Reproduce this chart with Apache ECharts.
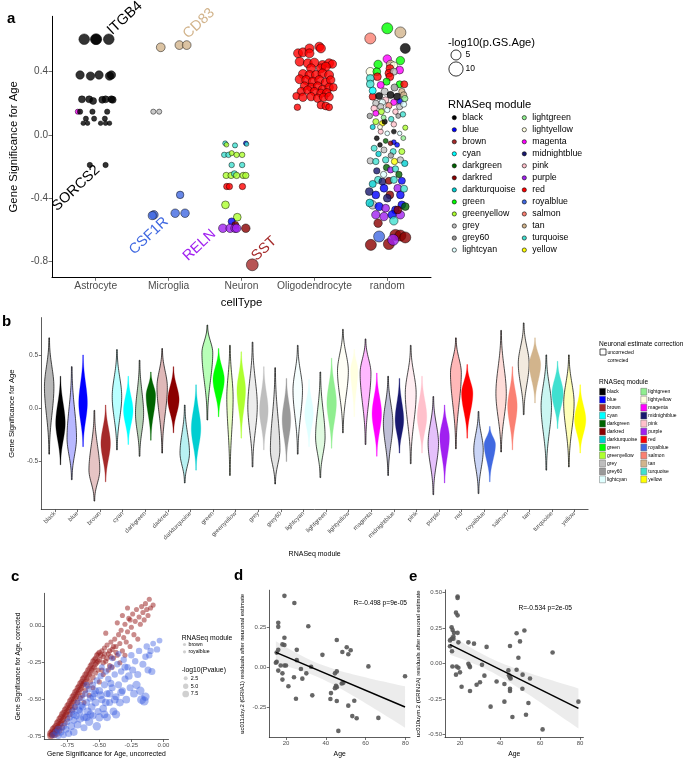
<!DOCTYPE html>
<html>
<head>
<meta charset="utf-8">
<script src="https://cdn.jsdelivr.net/npm/echarts@6/dist/echarts.min.js"></script>
<style>
html,body{margin:0;padding:0;background:#fff;}
#main{width:685px;height:759px;}
</style>
</head>
<body>
<div id="main"></div>
<script>
// ---------- data ----------
var cellTypes = ['Astrocyte', 'Microglia', 'Neuron', 'Oligodendrocyte', 'random'];
var modules = ['black','blue','brown','cyan','darkgreen','darkred','darkturquoise','green','greenyellow','grey','grey60','lightcyan',
  'lightgreen','lightyellow','magenta','midnightblue','pink','purple','red','royalblue','salmon','tan','turquoise','yellow'];
var moduleColors = {
  black:'#000000', blue:'#0000FF', brown:'#A52A2A', cyan:'#00FFFF', darkgreen:'#006400', darkred:'#8B0000',
  darkturquoise:'#00CED1', green:'#00FF00', greenyellow:'#ADFF2F', grey:'#BEBEBE', grey60:'#999999', lightcyan:'#E0FFFF',
  lightgreen:'#90EE90', lightyellow:'#FFFFE0', magenta:'#FF00FF', midnightblue:'#191970', pink:'#FFC0CB', purple:'#A020F0',
  red:'#FF0000', royalblue:'#4169E1', salmon:'#FA8072', tan:'#D2B48C', turquoise:'#40E0D0', yellow:'#FFFF00'
};

// panel a: [jitter, GS.Age, -log10 p, module]
var astrocytePts = [
  [-0.158,0.605,5.6,'black'],[0.0,0.605,5.6,'black'],[0.009,0.605,5.6,'black'],[0.179,0.605,5.6,'black'],
  [-0.215,0.379,3.5,'black'],[-0.072,0.372,3.5,'black'],[0.045,0.379,3.5,'black'],[0.189,0.372,3.5,'black'],[0.215,0.379,3.5,'black'],
  [-0.189,0.225,2.4,'black'],[-0.09,0.225,2.4,'black'],[-0.036,0.215,2.4,'black'],[0.09,0.222,2.4,'black'],[0.135,0.225,2.4,'black'],[0.215,0.225,2.4,'black'],[0.233,0.222,2.4,'black'],
  [-0.246,0.147,1.3,'magenta'],[-0.215,0.147,1.4,'black'],[-0.045,0.147,1.4,'black'],[0.157,0.147,1.4,'black'],
  [-0.135,0.103,1.3,'black'],[-0.022,0.103,1.3,'black'],[0.125,0.103,1.3,'black'],
  [-0.171,0.074,1.05,'black'],[-0.112,0.074,1.05,'black'],[0.067,0.074,1.05,'black'],[0.135,0.074,1.05,'black'],[0.189,0.074,1.05,'black'],
  [-0.081,-0.19,1.4,'black'],[0.135,-0.19,1.4,'black']
];
var microgliaPts = [
  [-0.108,0.554,3.8,'tan'],[0.148,0.568,3.8,'tan'],[0.248,0.568,3.8,'tan'],
  [-0.21,0.147,1.3,'grey'],[-0.129,0.147,1.3,'grey'],
  [-0.202,-0.505,3.6,'royalblue'],[-0.224,-0.51,3.3,'royalblue'],[0.158,-0.379,2.8,'royalblue'],[0.09,-0.495,3.6,'royalblue'],[0.225,-0.495,3.6,'royalblue']
];
var neuronPts = [
  [-0.224,-0.053,1.2,'turquoise'],[-0.206,-0.062,1.1,'greenyellow'],[-0.089,-0.066,1.3,'turquoise'],[0.059,-0.053,1.1,'blue'],[0.07,-0.058,1.0,'turquoise'],
  [-0.237,-0.126,1.5,'turquoise'],[-0.179,-0.126,1.5,'turquoise'],[-0.135,-0.115,1.3,'greenyellow'],[-0.067,-0.126,1.5,'greenyellow'],[0.009,-0.126,1.5,'greenyellow'],
  [-0.135,-0.19,1.5,'turquoise'],[0.009,-0.19,1.5,'turquoise'],
  [-0.21,-0.256,2,'greenyellow'],[-0.143,-0.256,2,'greenyellow'],[-0.098,-0.245,1.8,'turquoise'],[-0.067,-0.256,2,'greenyellow'],[0.023,-0.256,2,'greenyellow'],[0.059,-0.256,2,'greenyellow'],
  [-0.202,-0.326,2,'red'],[-0.166,-0.326,2,'red'],[0.013,-0.326,2,'red'],
  [-0.22,-0.442,3,'greenyellow'],[-0.058,-0.52,3,'greenyellow'],[-0.135,-0.547,2.5,'blue'],[-0.085,-0.57,2.5,'darkred'],
  [-0.256,-0.59,3.6,'purple'],[-0.156,-0.59,3.6,'purple'],[-0.089,-0.59,3.6,'purple'],[-0.067,-0.59,3.6,'purple'],[0.059,-0.59,3.6,'darkred'],
  [0.148,-0.821,7,'brown']
];
var oligoPts = [
  [-0.224,0.516,4],[-0.157,0.522,4],[-0.067,0.547,4],[0.067,0.558,4],[0.09,0.547,4],[-0.067,0.516,4],[-0.202,0.463,4],
  [-0.09,0.453,4],[0,0.457,4],[0.112,0.442,4],[0.202,0.453,4],[0.247,0.448,3.5],[-0.045,0.421,4],[0.09,0.421,4],[0.157,0.432,4],
  [-0.157,0.385,4],[-0.067,0.379,4],[0.022,0.379,4],[0.112,0.389,4],[0.202,0.379,4],[-0.202,0.352,4],[-0.112,0.347,4],
  [-0.022,0.337,4],[0.067,0.347,4],[0.157,0.331,4],[0.224,0.347,3.5],[-0.135,0.309,3.5],[-0.045,0.301,3.5],[0.045,0.309,3.5],[0.112,0.288,3.5],
  [0.202,0.301,3.5],[0.26,0.301,3],[-0.18,0.274,3.5],[-0.09,0.284,3.5],[0,0.274,3.5],[0.09,0.263,3.5],[0.17,0.267,3.5],[-0.247,0.246,2.6],
  [-0.157,0.238,3.5],[-0.045,0.242,3.5],[0.045,0.232,3.5],[0.126,0.238,3.5],[0.202,0.242,3.5],[0.09,0.189,3],[0.157,0.183,3],[0.202,0.175,2.4],[-0.233,0.175,2.1]
];
var randomPts = [
  [0,0.674,6,'green'],[0.18,0.648,6,'tan'],[-0.233,0.61,6,'salmon'],[0.247,0.547,5,'black'],[0,0.48,3.5,'magenta'],[-0.126,0.446,3.5,'green'],
  [0.045,0.446,3.5,'tan'],[0.18,0.47,3.5,'green'],[0.09,0.438,3,'lightyellow'],[0.036,0.42,3,'red'],[0.17,0.41,3,'magenta'],[-0.233,0.40,3.5,'lightyellow'],
  [-0.144,0.40,3,'green'],[0.022,0.39,3,'red'],[0.09,0.40,2.5,'grey'],[-0.135,0.368,3,'red'],[-0.233,0.358,3,'turquoise'],[0.036,0.368,3,'red'],
  [-0.01,0.337,2.5,'green'],[-0.233,0.322,3,'turquoise'],[-0.09,0.316,2.5,'magenta'],[0.17,0.32,2.5,'green'],[0.233,0.32,2.5,'red'],[0.2,0.274,2,'tan'],
  [-0.036,0.274,2.5,'grey'],[-0.2,0.242,2.5,'red'],[-0.112,0.246,2.5,'black'],[0.045,0.253,2.5,'black'],[0.135,0.242,2.5,'black'],[0.225,0.253,2,'tan'],
  [-0.022,0.221,2,'pink'],[-0.157,0.2,2,'grey'],[-0.067,0.206,2,'lightcyan'],[0.09,0.206,2,'magenta'],[0.18,0.21,2,'blue'],[-0.18,0.168,2,'pink'],
  [-0.09,0.179,2,'grey'],[0.022,0.185,2,'salmon'],[0.17,0.179,2,'grey'],[0.225,0.194,1.8,'lightcyan'],[-0.157,0.137,1.8,'magenta'],[-0.081,0.147,1.8,'greenyellow'],
  [0,0.158,1.5,'lightcyan'],[0.112,0.147,1.5,'pink'],[0.215,0.13,1.5,'turquoise'],[-0.157,0.084,1.8,'greenyellow'],[-0.067,0.074,1.6,'yellow'],[0.054,0.1,1.5,'turquoise'],
  [-0.036,0.084,1.4,'black'],[0.09,0.067,1.5,'pink'],[0.247,0.046,1.3,'greenyellow'],[-0.09,0.021,1.3,'pink'],[0,0.01,1.1,'lightcyan'],[0.09,0.021,1.2,'black'],
  [0.17,0.01,1,'lightcyan'],[-0.144,-0.021,1.2,'black'],[-0.022,-0.038,1.2,'darkgreen'],[0.09,-0.046,1.2,'blue'],[-0.1,-0.063,1.1,'black'],[0.045,-0.053,1.1,'darkred'],
  [0.135,-0.063,1.2,'blue'],[-0.18,-0.084,1.8,'turquoise'],[-0.045,-0.095,1.8,'grey'],[0.081,-0.105,1.8,'turquoise'],[0.2,-0.105,1.8,'greenyellow'],
  [-0.233,-0.164,2,'grey'],[-0.157,-0.168,2,'turquoise'],[-0.022,-0.158,2,'turquoise'],[0.099,-0.168,2,'yellow'],[0.18,-0.158,2,'grey'],
  [-0.144,-0.227,2,'midnightblue'],[-0.01,-0.206,2,'darkgreen'],[0.045,-0.221,2,'purple'],[0.112,-0.215,2,'turquoise'],[-0.126,-0.284,2.5,'turquoise'],
  [-0.067,-0.295,2.5,'midnightblue'],[0.022,-0.29,2.5,'darkred'],[0.09,-0.284,2.5,'turquoise'],[0.2,-0.29,2.5,'blue'],[-0.247,-0.358,3,'midnightblue'],
  [-0.157,-0.379,3,'blue'],[-0.045,-0.337,3,'blue'],[0.036,-0.379,3,'darkred'],[0.144,-0.337,3,'purple'],[0.18,-0.379,3,'blue'],[-0.2,-0.442,3.5,'grey'],
  [-0.112,-0.453,3.5,'blue'],[-0.022,-0.463,3,'purple'],[0.112,-0.474,3,'blue'],[0.2,-0.442,3,'blue'],[0.247,-0.453,3,'darkgreen'],[-0.157,-0.505,3.5,'purple'],
  [-0.045,-0.516,3.5,'purple'],[0.067,-0.505,3.5,'blue'],[0.18,-0.505,3.5,'purple'],[-0.126,-0.558,3.5,'darkred'],[0.09,-0.543,3.5,'turquoise'],[0.144,-0.474,3,'darkred'],
  [-0.2,0.05,1.3,'darkturquoise'],[0.15,0.12,1.2,'grey60'],[-0.05,0.11,1.2,'lightgreen'],[0.22,-0.02,1.2,'lightgreen'],[-0.12,-0.12,1.5,'darkturquoise'],
  [0.05,-0.13,1.5,'grey60'],[0.24,-0.18,2,'darkturquoise'],[-0.05,-0.25,2,'lightcyan'],[0.16,-0.25,2,'darkgreen'],[-0.2,-0.31,2.5,'darkturquoise'],
  [0.23,-0.34,2.5,'turquoise'],[-0.24,-0.43,3,'darkturquoise'],[0.0,-0.40,3,'midnightblue'],[-0.2,0.28,2.5,'cyan'],[0.24,0.23,2,'lightgreen'],
  [-0.24,0.12,1.5,'grey60'],[0.1,0.3,2.5,'grey60'],[-0.1,0.05,1.2,'lightyellow'],
  [-0.112,-0.642,6,'royalblue'],[-0.225,-0.695,6,'darkred'],[0.022,-0.69,6,'darkred'],[0.112,-0.632,6,'darkred'],[0.18,-0.636,6,'darkred'],
  [0.247,-0.648,6,'darkred'],[0.081,-0.663,6,'purple']
];
var geneNames = ['ITGB4', 'SORCS2', 'CD83', 'CSF1R', 'RELN', 'SST'];
var geneX = [1.26, 0.5, 2.3, 1.56, 2.3, 3.24];
var geneY = [0.614, -0.5, 0.59, -0.775, -0.815, -0.815];
var geneModule = ['black', 'black', 'tan', 'royalblue', 'purple', 'brown'];

// panel b: violin summaries (min, widest point, max, peak width as share of slot)
var uncMin  = [-0.43,-0.67,-0.87,-0.39,-0.45,-0.42,-0.70,-0.11,-0.63,-0.55,-0.71,-0.43,-0.65,-0.23,-0.34,-0.63,-0.52,-0.81,-0.38,-0.80,-0.41,-0.06,-0.58,-0.55];
var uncMode = [0.20,-0.28,-0.58,0.11,-0.05,0.20,-0.42,0.52,0.10,0.02,-0.39,0.17,-0.27,0.35,0.33,-0.14,0.14,-0.33,0.33,-0.39,0.14,0.42,0.02,0.05];
var uncMax  = [0.66,0.39,-0.02,0.55,0.45,0.56,0.03,0.78,0.59,0.62,0.38,0.59,0.34,0.74,0.65,0.30,0.59,0.11,0.66,-0.03,0.73,0.80,0.50,0.50];
var uncWidth = [0.21,0.21,0.24,0.21,0.18,0.23,0.21,0.24,0.14,0.21,0.21,0.21,0.21,0.24,0.24,0.21,0.24,0.23,0.24,0.21,0.23,0.24,0.23,0.23];
var corMin  = [-0.53,-0.36,-0.69,-0.34,-0.30,-0.23,-0.58,-0.08,-0.28,-0.39,-0.50,-0.36,-0.375,-0.08,-0.45,-0.42,-0.42,-0.70,-0.28,-0.69,-0.39,0.05,-0.19,-0.42];
var corMode = [-0.14,0.05,-0.33,-0.02,0.12,0.08,-0.19,0.27,0.17,-0.02,-0.11,-0.05,0.05,0.36,-0.05,-0.11,-0.08,-0.27,0.14,-0.34,0.02,0.41,0.14,-0.11];
var corMax  = [0.30,0.50,0.03,0.30,0.34,0.39,0.22,0.56,0.53,0.39,0.28,0.27,0.47,0.55,0.33,0.28,0.30,0.03,0.41,-0.17,0.39,0.66,0.44,0.22];
var corWidth = [0.21,0.19,0.21,0.21,0.21,0.25,0.21,0.25,0.19,0.19,0.19,0.19,0.21,0.16,0.21,0.19,0.21,0.21,0.25,0.25,0.21,0.25,0.25,0.25];

// panel c: [GS uncorrected, GS corrected, -log10 p]
var brownPts = [
  [-0.88,-0.745,5],[-0.88,-0.73,5],[-0.87,-0.72,5],[-0.87,-0.74,4],[-0.86,-0.70,5],[-0.86,-0.73,4],
  [-0.85,-0.69,4],[-0.85,-0.72,4],[-0.85,-0.74,4],[-0.84,-0.68,4],[-0.84,-0.71,4],
  [-0.83,-0.66,4],[-0.83,-0.70,4],[-0.83,-0.73,4],[-0.82,-0.65,4],[-0.82,-0.69,4],
  [-0.81,-0.63,4],[-0.81,-0.67,4],[-0.81,-0.71,3],[-0.80,-0.62,4],[-0.80,-0.66,3],
  [-0.79,-0.60,4],[-0.79,-0.64,3],[-0.79,-0.69,3],[-0.78,-0.59,4],[-0.78,-0.63,3],
  [-0.77,-0.57,3],[-0.77,-0.61,3],[-0.77,-0.66,3],[-0.76,-0.56,3],[-0.76,-0.60,3],
  [-0.75,-0.54,3],[-0.75,-0.58,3],[-0.75,-0.63,3],[-0.74,-0.53,3],[-0.74,-0.57,3],
  [-0.73,-0.51,3],[-0.73,-0.55,3],[-0.73,-0.60,3],[-0.72,-0.50,3],[-0.72,-0.54,3],
  [-0.71,-0.48,3],[-0.71,-0.52,3],[-0.71,-0.57,3],[-0.70,-0.47,3],[-0.70,-0.51,3],
  [-0.69,-0.45,3],[-0.69,-0.49,3],[-0.69,-0.55,3],[-0.68,-0.44,3],[-0.68,-0.48,3],
  [-0.67,-0.42,3],[-0.67,-0.46,3],[-0.67,-0.52,2.5],[-0.66,-0.41,3],[-0.66,-0.45,3],
  [-0.65,-0.39,3],[-0.65,-0.43,3],[-0.65,-0.49,2.5],[-0.64,-0.38,3],[-0.64,-0.42,3],
  [-0.63,-0.36,3],[-0.63,-0.40,3],[-0.63,-0.47,2.5],[-0.62,-0.35,3],[-0.62,-0.39,3],
  [-0.61,-0.33,3],[-0.61,-0.38,3],[-0.61,-0.44,2.5],[-0.60,-0.32,2.5],[-0.60,-0.36,2.5],
  [-0.59,-0.30,2.5],[-0.59,-0.35,2.5],[-0.59,-0.41,2.5],[-0.58,-0.29,2.5],[-0.58,-0.33,2.5],
  [-0.57,-0.27,2.5],[-0.57,-0.32,2.5],[-0.57,-0.38,2.5],[-0.56,-0.26,2.5],[-0.56,-0.30,2.5],
  [-0.55,-0.24,2.5],[-0.55,-0.29,2.5],[-0.55,-0.35,2.5],[-0.54,-0.23,2.5],[-0.54,-0.28,2.5],
  [-0.53,-0.22,2.5],[-0.53,-0.26,2.5],[-0.53,-0.32,2],[-0.52,-0.20,2.5],[-0.52,-0.25,2.5],
  [-0.51,-0.19,2.5],[-0.51,-0.24,2.5],[-0.51,-0.30,2],[-0.50,-0.18,2.5],[-0.50,-0.23,2.5],
  [-0.48,-0.17,2],[-0.47,-0.21,2],[-0.46,-0.15,2],[-0.45,-0.24,2],[-0.44,-0.13,2],[-0.43,-0.19,2],[-0.42,-0.27,2],
  [-0.41,-0.11,2],[-0.40,-0.16,2],[-0.39,-0.22,2],[-0.38,-0.09,2],[-0.37,-0.14,2],[-0.36,-0.20,2],[-0.35,-0.06,2],
  [-0.34,-0.12,2],[-0.33,-0.03,2],[-0.32,-0.17,2],[-0.31,-0.08,2],[-0.30,0.01,2],[-0.29,-0.11,2],[-0.28,-0.04,2],
  [-0.27,0.05,2],[-0.26,-0.14,2],[-0.25,-0.01,2],[-0.24,0.08,2],[-0.23,-0.06,2],[-0.22,0.03,2],[-0.21,0.11,2],
  [-0.20,-0.09,2],[-0.19,0.06,2],[-0.18,0.01,2],[-0.17,0.13,2],[-0.16,0.09,2],[-0.15,0.04,2],[-0.14,0.15,2],
  [-0.13,0.11,2],[-0.12,0.07,2],[-0.11,0.18,2],[-0.10,0.12,2],[-0.08,0.14,2],[-0.36,0.02,2],[-0.32,0.07,2],
  [-0.28,0.12,2],[-0.26,0.04,2],[-0.30,-0.20,2],[-0.34,-0.25,2],[-0.45,-0.05,2],[-0.40,-0.28,2],[-0.48,-0.30,2],
  [-0.62,-0.52,2],[-0.58,-0.47,2],[-0.55,-0.42,2],[-0.50,-0.38,2],[-0.47,-0.33,2],[-0.43,-0.30,2],
  [-0.49,-0.20,2.5],[-0.47,-0.25,2.5],[-0.46,-0.19,2.5],[-0.44,-0.22,2.5],[-0.42,-0.17,2.5],[-0.41,-0.21,2.5],[-0.39,-0.14,2],[-0.37,-0.18,2]
];
var royalbluePts = [
  [-0.86,-0.74,4],[-0.84,-0.72,4],[-0.82,-0.70,5],[-0.82,-0.745,4],[-0.80,-0.72,5],[-0.78,-0.68,5],[-0.78,-0.74,4],[-0.76,-0.70,5],
  [-0.75,-0.65,4],[-0.74,-0.73,5],[-0.73,-0.62,4],[-0.72,-0.68,6],[-0.71,-0.58,4],[-0.70,-0.64,5],[-0.70,-0.72,6],[-0.69,-0.55,4],
  [-0.68,-0.61,5],[-0.67,-0.67,6],[-0.67,-0.52,4],[-0.66,-0.57,5],[-0.65,-0.63,6],[-0.64,-0.49,4],[-0.63,-0.55,5],[-0.62,-0.62,6],
  [-0.62,-0.69,5],[-0.61,-0.46,4],[-0.60,-0.52,5],[-0.59,-0.58,6],[-0.58,-0.65,7],[-0.58,-0.43,4],[-0.57,-0.49,5],[-0.56,-0.55,6],
  [-0.55,-0.61,5],[-0.55,-0.40,4],[-0.54,-0.46,5],[-0.53,-0.52,6],[-0.52,-0.68,7],[-0.52,-0.37,4],[-0.51,-0.58,5],[-0.50,-0.44,6],
  [-0.50,-0.62,7],[-0.49,-0.34,4],[-0.48,-0.50,5],[-0.47,-0.56,6],[-0.46,-0.40,5],[-0.45,-0.31,4],[-0.44,-0.46,5],[-0.44,-0.62,6],
  [-0.43,-0.36,4],[-0.42,-0.52,5],[-0.41,-0.28,4],[-0.40,-0.42,5],[-0.39,-0.58,6],[-0.38,-0.33,4],[-0.37,-0.48,5],[-0.37,-0.60,7],
  [-0.36,-0.26,4],[-0.35,-0.40,5],[-0.34,-0.52,6],[-0.33,-0.31,4],[-0.32,-0.44,5],[-0.31,-0.23,4],[-0.30,-0.36,5],[-0.29,-0.50,6],
  [-0.28,-0.28,4],[-0.27,-0.34,6],[-0.26,-0.42,5],[-0.25,-0.20,4],[-0.24,-0.30,5],[-0.23,-0.46,6],[-0.22,-0.24,4],[-0.21,-0.40,7],
  [-0.20,-0.33,5],[-0.19,-0.17,4],[-0.18,-0.44,7],[-0.17,-0.50,8],[-0.16,-0.26,5],[-0.15,-0.51,8],[-0.14,-0.48,7],[-0.14,-0.21,4],
  [-0.13,-0.14,4],[-0.12,-0.30,5],[-0.11,-0.20,4],[-0.10,-0.17,4],[-0.09,-0.31,5],[-0.08,-0.12,3],[-0.05,-0.16,4],[-0.03,-0.10,3],
  [-0.60,-0.40,4],[-0.48,-0.28,3],[-0.40,-0.22,3],[-0.35,-0.19,3],[-0.45,-0.52,6],[-0.55,-0.48,5],[-0.65,-0.58,5],[-0.60,-0.62,6],[-0.42,-0.46,6],
  [-0.70,-0.60,5],[-0.64,-0.54,5],[-0.57,-0.60,6],[-0.53,-0.44,5],[-0.49,-0.47,6],[-0.46,-0.60,6],[-0.41,-0.39,5],[-0.38,-0.50,6],[-0.33,-0.45,6],[-0.30,-0.28,5]
];

// panels d and e: age vs residuals
var dAge = [19.2,24.2,16.1,16.1,31.2,19.2,45.5,18.2,19.2,50.5,52.5,25.4,16.1,48.3,15.3,38.3,51.3,25.4,15.3,14.9,17.3,19.2,20,32.6,61.4,16.1,
  27.5,30.2,18.2,44.6,45.5,79.8,24,21.2,28.2,18.2,48.8,48,45.1,44.6,45.5,33.2,42.6,42.3,25,45.5,54.3,51.3,53.3,55.5,66.4,46.3];
var dRes = [0.445,0.40,0.277,0.252,0.256,0.184,0.170,0.143,0.139,0.125,0.107,0.109,0.109,0.096,0.092,0.078,0.082,0.045,0.035,0.029,0.012,0.012,
  0.012,0.004,0.006,-0.02,-0.01,-0.037,-0.037,-0.037,-0.025,-0.055,-0.061,-0.117,-0.07,-0.076,-0.096,-0.10,-0.115,-0.129,-0.123,-0.174,-0.16,
  -0.197,-0.195,-0.209,-0.207,-0.238,-0.303,-0.316,-0.314,-0.395];
var eAge = [18.8,18.8,18,18.8,15.8,16.3,17,16.7,18.8,15.8,15,16.7,19.2,24.2,27,33.3,15,16,48.3,52.2,45,50,66.3,49.2,16.2,18.3,19.2,20,18,
  24.2,24.7,25,31,32.2,20.8,25,28.3,30,38.3,42.2,44.2,44.5,45,45.3,48.3,51.3,45,45,51.2,55,54.2,42.2,35.3,46.2,53,61.3,79.2];
var eRes = [0.472,0.461,0.358,0.339,0.255,0.236,0.216,0.19,0.216,0.174,0.163,0.174,0.149,0.149,0.14,0.117,0.122,0.087,0.213,0.232,0.124,
  0.156,0.078,0.041,-0.021,-0.021,-0.03,-0.062,-0.078,-0.002,-0.016,-0.025,-0.009,-0.085,-0.163,-0.193,-0.149,-0.131,-0.126,-0.144,-0.048,
  -0.083,-0.096,-0.105,-0.044,-0.078,-0.177,-0.193,-0.177,-0.105,-0.277,-0.268,-0.303,-0.376,-0.36,-0.463,-0.268];

// ---------- helpers ----------
var FONT = 'Liberation Sans';
var sizeA = function (p) { return 4.5 * Math.sqrt(p); };
var sizeC = function (p) { return 3.8 + 0.65 * p; };

function columnSeries(pts, ci, fixedModule) {
  return {
    type: 'scatter', xAxisIndex: 0, yAxisIndex: 0, silent: true,
    data: pts.map(function (d) {
      var m = fixedModule || d[3];
      return { value: [ci + 1 + d[0], d[1], d[2]], itemStyle: { color: moduleColors[m] } };
    }),
    symbolSize: function (v) { return sizeA(v[2]); },
    itemStyle: { borderColor: '#000', borderWidth: 0.6 }
  };
}

function violinPoly(api, xc, mn, md, mx, hw) {
  var left = [], right = [];
  var N = 48;
  for (var k = 0; k <= N; k++) {
    var v = mn + (mx - mn) * k / N;
    var t = v <= md ? (v - mn) / (md - mn) : (mx - v) / (mx - md);
    var f = Math.pow(t * t * (3 - 2 * t), 1.3);
    var w = 0.35 + (hw - 0.35) * f;
    var p = api.coord([xc, v]);
    left.push([p[0] - w, p[1]]);
    right.push([p[0] + w, p[1]]);
  }
  return left.concat(right.reverse());
}

function linFit(xs, ys) {
  var n = xs.length, mx = 0, my = 0;
  for (var i = 0; i < n; i++) { mx += xs[i]; my += ys[i]; }
  mx /= n; my /= n;
  var sxx = 0, sxy = 0;
  for (i = 0; i < n; i++) { sxx += (xs[i] - mx) * (xs[i] - mx); sxy += (xs[i] - mx) * (ys[i] - my); }
  var b = sxy / sxx, a = my - b * mx, sse = 0;
  for (i = 0; i < n; i++) { var r = ys[i] - (a + b * xs[i]); sse += r * r; }
  var s = Math.sqrt(sse / (n - 2));
  var x0 = Math.min.apply(null, xs), x1 = Math.max.apply(null, xs);
  var band = [];
  for (var k = 0; k <= 30; k++) {
    var x = x0 + (x1 - x0) * k / 30;
    var se = s * Math.sqrt(1 / n + (x - mx) * (x - mx) / sxx);
    band.push([x, a + b * x - 2.0 * se, a + b * x + 2.0 * se]);
  }
  return { line: [[x0, a + b * x0], [x1, a + b * x1]], band: band };
}

function regressionSeries(ax, xs, ys) {
  var fit = linFit(xs, ys);
  return [
    {
      type: 'custom', xAxisIndex: ax, yAxisIndex: ax, silent: true, data: [[0]],
      renderItem: function (params, api) {
        var up = [], lo = [];
        fit.band.forEach(function (b) { lo.push(api.coord([b[0], b[1]])); up.push(api.coord([b[0], b[2]])); });
        return { type: 'polygon', shape: { points: lo.concat(up.reverse()) }, style: { fill: 'rgba(160,160,160,0.2)' } };
      }
    },
    {
      type: 'scatter', xAxisIndex: ax, yAxisIndex: ax, silent: true, symbolSize: 4.6,
      itemStyle: { color: '#555555', opacity: 0.9 },
      data: xs.map(function (x, i) { return [x, ys[i]]; })
    },
    {
      type: 'line', xAxisIndex: ax, yAxisIndex: ax, silent: true, symbol: 'none',
      lineStyle: { color: '#000', width: 1.5 }, data: fit.line
    }
  ];
}

function valAxis(grid, min, max, ticks, fmt, o) {
  return {
    gridIndex: grid, type: 'value', min: min, max: max, splitLine: { show: false },
    axisLine: { show: true, onZero: false, lineStyle: { color: o.lineColor || '#333', width: o.lineWidth || 0.8 } },
    axisTick: { show: true, customValues: ticks, length: o.tickLen || 2.5, lineStyle: { color: '#333', width: 0.7 } },
    axisLabel: { customValues: ticks, formatter: fmt, fontSize: o.fontSize, color: '#4d4d4d', fontFamily: FONT, margin: o.margin || 3, rotate: o.rotate || 0 },
    name: o.name || '', nameLocation: 'middle', nameGap: o.nameGap || 10,
    nameTextStyle: { fontSize: o.nameSize || 7, color: '#000', fontFamily: FONT }
  };
}

function txt(id, x, y, s, size, opts) {
  opts = opts || {};
  return {
    type: 'text', id: id, x: x, y: y, rotation: opts.rotation || 0, silent: true,
    style: {
      text: s, fontSize: size, fontFamily: FONT, fontWeight: opts.weight || 'normal', fill: opts.color || '#000',
      textAlign: opts.align || 'left', align: opts.align || 'left',
      textVerticalAlign: opts.valign || 'middle', verticalAlign: opts.valign || 'middle'
    }
  };
}

// ---------- legends / static text ----------
var graphics = [];
graphics.push(txt('la', 7, 19, 'a', 15, { weight: 'bold' }));
graphics.push(txt('lb', 2, 322, 'b', 15, { weight: 'bold' }));
graphics.push(txt('lc', 11, 577, 'c', 15, { weight: 'bold' }));
graphics.push(txt('ld', 234, 576, 'd', 15, { weight: 'bold' }));
graphics.push(txt('le', 409, 577, 'e', 15, { weight: 'bold' }));

// panel a legends
graphics.push(txt('aT1', 448, 43, '-log10(p.GS.Age)', 11.2));
[5, 10].forEach(function (p, k) {
  var cy = [55, 69][k];
  graphics.push({ type: 'circle', id: 'aS' + k, silent: true, shape: { cx: 456, cy: cy, r: sizeA(p) / 2 }, style: { fill: '#fff', stroke: '#000', lineWidth: 0.8 } });
  graphics.push(txt('aSt' + k, 465.5, cy, String(p), 8.5));
});
graphics.push(txt('aT2', 448, 105, 'RNASeq module', 11.2));
modules.forEach(function (m, i) {
  var col = i < 12 ? 0 : 1, row = i % 12;
  var y = 117.7 + row * 12.03;
  var dx = col === 0 ? 454.3 : 524.3;
  graphics.push({ type: 'circle', id: 'aM' + i, silent: true, shape: { cx: dx, cy: y, r: 2.1 }, style: { fill: moduleColors[m], stroke: '#000', lineWidth: 0.6 } });
  graphics.push(txt('aMt' + i, dx + 8, y, m, 8.8));
});

// panel b legends
graphics.push(txt('bT1', 599, 344, 'Neuronal estimate correction', 6.6));
graphics.push({ type: 'rect', id: 'bK0', silent: true, shape: { x: 600, y: 349, width: 6, height: 6 }, style: { fill: '#fff', stroke: '#000', lineWidth: 0.7 } });
graphics.push(txt('bK0t', 607.5, 352.2, 'uncorrected', 5));
graphics.push(txt('bK1t', 607.5, 360.5, 'corrected', 5));
graphics.push(txt('bT2', 599, 382.5, 'RNASeq module', 6.6));
modules.forEach(function (m, i) {
  var col = i < 12 ? 0 : 1, row = i % 12;
  var y = 391.7 + row * 7.97;
  var bx = col === 0 ? 599.5 : 640.8;
  graphics.push({ type: 'rect', id: 'bM' + i, silent: true, shape: { x: bx, y: y - 3.4, width: 6, height: 6.8 }, style: { fill: moduleColors[m], stroke: '#555', lineWidth: 0.4 } });
  graphics.push(txt('bMt' + i, bx + 7.5, y, m, 5));
});

// panel c legend
graphics.push(txt('cT1', 181.7, 638, 'RNASeq module', 6.8));
['brown', 'royalblue'].forEach(function (m, k) {
  var y = [644.5, 651.8][k];
  graphics.push({ type: 'circle', id: 'cM' + k, silent: true, shape: { cx: 184.5, cy: y, r: 1.6 }, style: { fill: 'rgba(150,150,150,0.45)' } });
  graphics.push(txt('cMt' + k, 188.5, y, m, 5.2));
});
graphics.push(txt('cT2', 181.7, 670.5, '-log10(Pvalue)', 6.8));
[2.5, 5.0, 7.5].forEach(function (p, k) {
  var y = [678.3, 686.2, 694][k];
  graphics.push({ type: 'circle', id: 'cS' + k, silent: true, shape: { cx: 185.7, cy: y, r: (2.6 + 0.55 * p) / 2 }, style: { fill: 'rgba(150,150,150,0.45)' } });
  graphics.push(txt('cSt' + k, 190.8, y, p.toFixed(1), 5.4));
});

// panels d / e annotations
graphics.push(txt('dR', 407, 603.3, 'R=-0.498 p=9e-05', 6.6, { align: 'right' }));
graphics.push(txt('eR', 572, 608.3, 'R=-0.534 p=2e-05', 6.6, { align: 'right' }));

// ---------- option ----------
var f1 = function (v) { return v.toFixed(1); };
var f2 = function (v) { return v.toFixed(2); };
var fInt = function (v) { return String(Math.round(v)); };

var option = {
  animation: false,
  backgroundColor: '#fff',
  textStyle: { fontFamily: FONT },
  grid: [
    { left: 45, top: 16.3, width: 386, height: 261 },
    { left: 26.7, top: 317.6, width: 561.4, height: 192 },
    { left: 44.3, top: 593.3, width: 124.2, height: 148.5 },
    { left: 269.3, top: 590.2, width: 140.7, height: 149 },
    { left: 445, top: 589.9, width: 138.4, height: 151 }
  ],
  xAxis: [
    valAxis(0, 0.4, 5.6, [1, 2, 3, 4, 5], function (v) { return cellTypes[Math.round(v) - 1]; },
      { fontSize: 10.3, lineColor: '#000', lineWidth: 1, tickLen: 3.5, margin: 4, name: 'cellType', nameGap: 20.5, nameSize: 11.3 }),
    valAxis(1, -0.6, 23.6, modules.map(function (m, i) { return i; }), function (v) { return modules[Math.round(v)]; },
      { fontSize: 6.1, rotate: 45, margin: 3, name: 'RNASeq module', nameGap: 41, nameSize: 7 }),
    valAxis(2, -0.93, 0.04, [-0.75, -0.5, -0.25, 0], f2,
      { fontSize: 6, name: 'Gene Significance for Age, uncorrected', nameGap: 11.5, nameSize: 6.8 }),
    valAxis(3, 11.6, 82.3, [20, 40, 60, 80], fInt, { fontSize: 6, name: 'Age', nameGap: 13.5, nameSize: 6.8 }),
    valAxis(4, 12.5, 81.7, [20, 40, 60, 80], fInt, { fontSize: 6, name: 'Age', nameGap: 13.5, nameSize: 6.8 })
  ],
  yAxis: [
    valAxis(0, -0.9, 0.75, [-0.8, -0.4, 0, 0.4], f1,
      { fontSize: 10, lineColor: '#000', lineWidth: 1, tickLen: 3.5, margin: 4, name: 'Gene Significance for Age', nameGap: 33, nameSize: 11.3 }),
    valAxis(1, -0.95, 0.85, [-0.5, 0, 0.5], f1, { fontSize: 6.6, name: 'Gene Significance for Age', nameGap: 19.5, nameSize: 7.6 }),
    valAxis(2, -0.77, 0.22, [-0.75, -0.5, -0.25, 0], f2,
      { fontSize: 6, name: 'Gene Significance for Age, corrected', nameGap: 23, nameSize: 6.6 }),
    valAxis(3, -0.436, 0.48, [-0.25, 0, 0.25], f2,
      { fontSize: 6, name: 'uc011doy.2 (GRIA1) residuals after neuronal estimate', nameGap: 23.6, nameSize: 5.9 }),
    valAxis(4, -0.52, 0.518, [-0.5, -0.25, 0, 0.25, 0.5], f2,
      { fontSize: 6, name: 'uc010uym.2 (GRIN2A) residuals after neuronal estimate', nameGap: 23.3, nameSize: 5.9 })
  ],
  graphic: { elements: graphics },
  series: [
    columnSeries(astrocytePts, 0),
    columnSeries(microgliaPts, 1),
    columnSeries(neuronPts, 2),
    columnSeries(oligoPts, 3, 'red'),
    columnSeries(randomPts, 4),
    {
      type: 'custom', xAxisIndex: 1, yAxisIndex: 1, silent: true,
      data: modules.map(function (m, i) { return [i]; }),
      renderItem: function (params, api) {
        var i = api.value(0);
        var band = api.size([1, 0])[0];
        var col = moduleColors[modules[i]];
        var unc = violinPoly(api, i - 0.25, uncMin[i], uncMode[i], uncMax[i], uncWidth[i] * band);
        var cor = violinPoly(api, i + 0.25, corMin[i], corMode[i], corMax[i], corWidth[i] * band);
        return {
          type: 'group', children: [
            { type: 'polygon', shape: { points: unc }, style: { fill: echarts.color.modifyAlpha(col, 0.28), stroke: '#000', lineWidth: 0.7 } },
            { type: 'polygon', shape: { points: cor }, style: { fill: col, stroke: col, lineWidth: 0.3 } }
          ]
        };
      }
    },
    {
      type: 'scatter', xAxisIndex: 2, yAxisIndex: 2, silent: true, name: 'brown',
      data: brownPts, symbolSize: function (v) { return sizeC(v[2]); },
      itemStyle: { color: '#961818', opacity: 0.5 }
    },
    {
      type: 'scatter', xAxisIndex: 2, yAxisIndex: 2, silent: true, name: 'royalblue',
      data: royalbluePts, symbolSize: function (v) { return sizeC(v[2]); },
      itemStyle: { color: '#3558E0', opacity: 0.42 }
    }
  ].concat(regressionSeries(3, dAge, dRes)).concat(regressionSeries(4, eAge, eRes))
};

var chart = echarts.init(document.getElementById('main'));
chart.setOption(option);

// gene labels placed at data positions of panel a
var geneEls = geneNames.map(function (g, i) {
  var p = chart.convertToPixel({ gridIndex: 0 }, [geneX[i], geneY[i]]);
  return txt('gene' + i, p[0], p[1], g, 14.5, { color: moduleColors[geneModule[i]], rotation: 43 * Math.PI / 180, valign: 'bottom' });
});
chart.setOption({ graphic: { elements: graphics.concat(geneEls) } });
</script>
</body>
</html>
